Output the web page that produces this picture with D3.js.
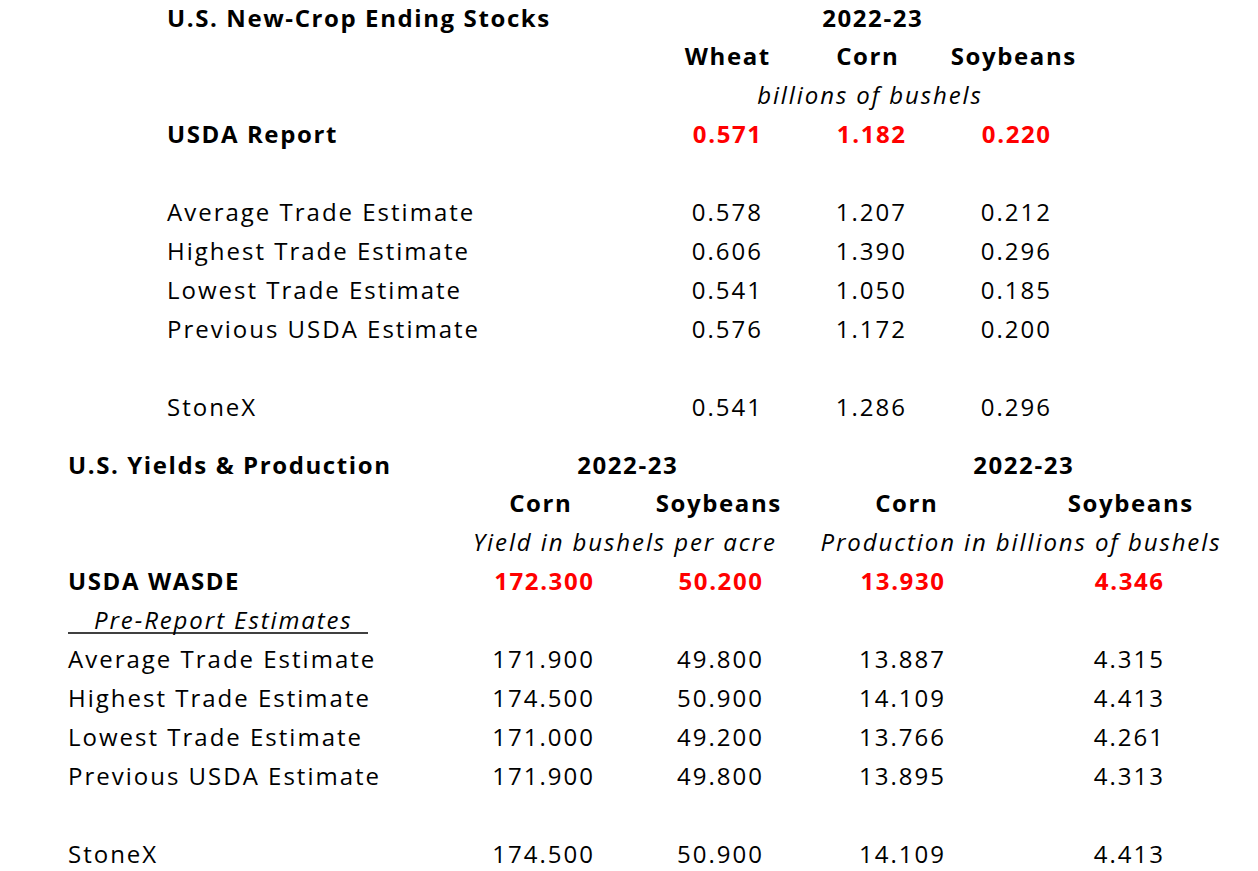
<!DOCTYPE html>
<html>
<head>
<meta charset="utf-8">
<script src="https://cdn.jsdelivr.net/npm/d3@7"></script>
<style>
  html, body { margin: 0; padding: 0; background: #fff; }
  svg { display: block; }
  text { font-family: "Open Sans", "Noto Sans", sans-serif; font-size: 24px; fill: #000; letter-spacing: 2px; }
  .bold { font-weight: 700; letter-spacing: 1.6px; }
  .ital { font-style: italic; letter-spacing: 1.9px; }
  .red { fill: #ff0000; font-weight: 700; letter-spacing: 1.6px; }
</style>
</head>
<body>
<svg id="chart" width="1258" height="871"></svg>
<script>
// Ending stocks table (billions of bushels, 2022-23)
const stocksTitle = "U.S. New-Crop Ending Stocks";
const stocksYear = "2022-23";
const stocksCrops = ["Wheat", "Corn", "Soybeans"];
const stocksUnit = "billions of bushels";
const stocksReportLabel = "USDA Report";
const stocksReport = ["0.571", "1.182", "0.220"];
const stocksRowLabels = ["Average Trade Estimate", "Highest Trade Estimate", "Lowest Trade Estimate", "Previous USDA Estimate", "", "StoneX"];
const stocksWheat = ["0.578", "0.606", "0.541", "0.576", "", "0.541"];
const stocksCorn  = ["1.207", "1.390", "1.050", "1.172", "", "1.286"];
const stocksSoy   = ["0.212", "0.296", "0.185", "0.200", "", "0.296"];

// Yields & production table
const yieldTitle = "U.S. Yields & Production";
const yieldYear = "2022-23";
const yieldCrops = ["Corn", "Soybeans", "Corn", "Soybeans"];
const yieldUnits = ["Yield in bushels per acre", "Production in billions of bushels"];
const yieldReportLabel = "USDA WASDE";
const yieldReport = ["172.300", "50.200", "13.930", "4.346"];
const yieldSubhead = "Pre-Report Estimates";
const yieldRowLabels = ["Average Trade Estimate", "Highest Trade Estimate", "Lowest Trade Estimate", "Previous USDA Estimate", "", "StoneX"];
const yieldCornYield = ["171.900", "174.500", "171.000", "171.900", "", "174.500"];
const yieldSoyYield  = ["49.800", "50.900", "49.200", "49.800", "", "50.900"];
const yieldCornProd  = ["13.887", "14.109", "13.766", "13.895", "", "14.109"];
const yieldSoyProd   = ["4.315", "4.413", "4.261", "4.313", "", "4.413"];

const svg = d3.select("#chart");
const CAP = 8.5; // half cap height, shifts row centre to baseline

// row scales: row index -> row centre
const yTop = d3.scaleLinear().domain([0, 10]).range([18, 407]);
const yBot = d3.scaleLinear().domain([0, 10]).range([465, 854]);

// column scales: right edge of value columns, centre of headers
const xTopVal = d3.scaleOrdinal().domain(stocksCrops).range([761, 905, 1050]);
const xTopHead = d3.scaleOrdinal().domain(stocksCrops).range([727, 867, 1013]);
const botCols = d3.range(yieldCrops.length);
const xBotVal = d3.scaleOrdinal().domain(botCols).range([593, 762, 944, 1163]);
const xBotHead = d3.scaleOrdinal().domain(botCols).range([540, 718, 906, 1130]);

// letter-spacing trails the last glyph, so nudge end/middle anchored text
function txt(x, y, s, cls, anchor) {
  const t = svg.append("text")
    .attr("y", y + CAP)
    .attr("class", cls || null)
    .attr("text-anchor", anchor || "start")
    .text(s);
  const ls = parseFloat(getComputedStyle(t.node()).letterSpacing) || 0;
  const shift = anchor === "end" ? ls : anchor === "middle" ? ls / 2 : 0;
  t.attr("x", x + shift);
  return t;
}

// ---- top table ----
const topLeft = 167;
txt(topLeft, yTop(0), stocksTitle, "bold");
txt(872, yTop(0), stocksYear, "bold", "middle");
stocksCrops.forEach(c => txt(xTopHead(c), yTop(1), c, "bold", "middle"));
txt(869, yTop(2), stocksUnit, "ital", "middle");
txt(topLeft, yTop(3), stocksReportLabel, "bold");
stocksCrops.forEach((c, i) => txt(xTopVal(c), yTop(3), stocksReport[i], "red", "end"));

const topCols = [stocksWheat, stocksCorn, stocksSoy];
stocksRowLabels.forEach((lab, r) => {
  if (!lab) return;
  txt(topLeft, yTop(5 + r), lab);
  stocksCrops.forEach((c, i) => txt(xTopVal(c), yTop(5 + r), topCols[i][r], null, "end"));
});

// ---- bottom table ----
const botLeft = 68;
txt(botLeft, yBot(0), yieldTitle, "bold");
txt(627, yBot(0), yieldYear, "bold", "middle");
txt(1023, yBot(0), yieldYear, "bold", "middle");
botCols.forEach(i => txt(xBotHead(i), yBot(1), yieldCrops[i], "bold", "middle"));
txt(624, yBot(2), yieldUnits[0], "ital", "middle");
txt(1020, yBot(2), yieldUnits[1], "ital", "middle");
txt(botLeft, yBot(3), yieldReportLabel, "bold");
botCols.forEach(i => txt(xBotVal(i), yBot(3), yieldReport[i], "red", "end"));

// underlined italic subheading with leading blank
txt(94, yBot(4), yieldSubhead, "ital");
svg.append("line")
  .attr("x1", botLeft).attr("x2", 368)
  .attr("y1", yBot(4) + CAP + 4).attr("y2", yBot(4) + CAP + 4)
  .attr("stroke", "#000").attr("stroke-width", 1.5);

const botData = [yieldCornYield, yieldSoyYield, yieldCornProd, yieldSoyProd];
yieldRowLabels.forEach((lab, r) => {
  if (!lab) return;
  txt(botLeft, yBot(5 + r), lab);
  botCols.forEach(i => txt(xBotVal(i), yBot(5 + r), botData[i][r], null, "end"));
});
</script>
</body>
</html>
